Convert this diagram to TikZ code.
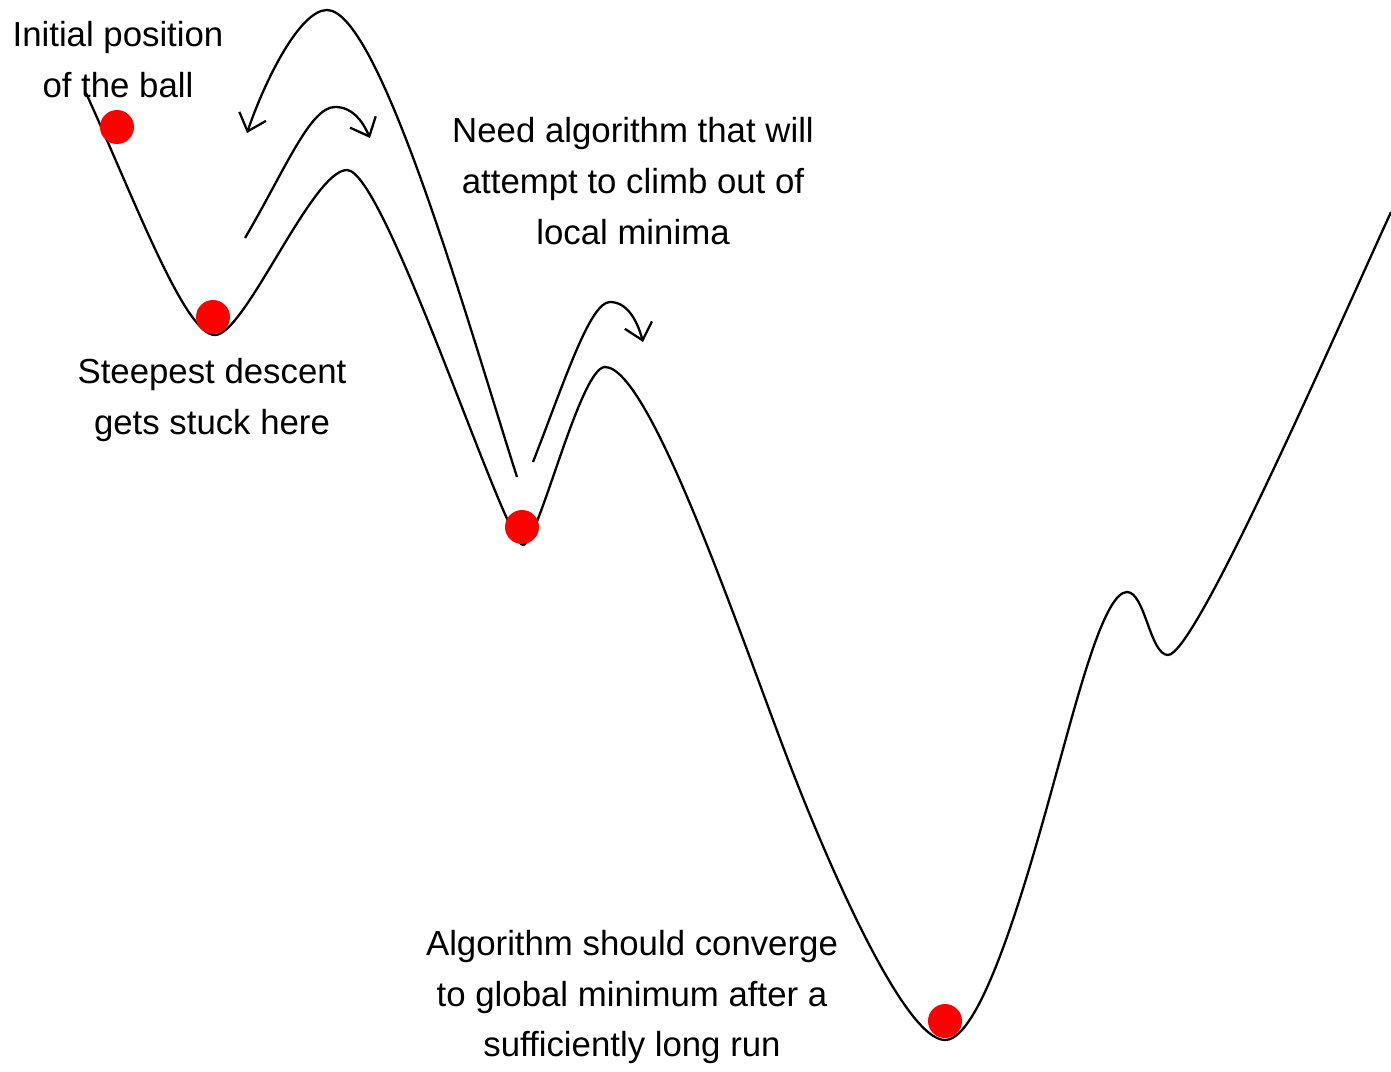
\documentclass[tikz,border=0pt]{standalone}
\usepackage{fontspec}
\setmainfont{Liberation Sans}
\usepackage{tikz}
\usetikzlibrary{arrows.meta}

\begin{document}
\begin{tikzpicture}[
  x=0.02cm, y=-0.02cm,
  land/.style={line width=1.3pt, line join=round},
  hop/.style={line width=1.3pt, -{Straight Barb[length=9pt, width=16pt, line width=1.3pt]}},
  ball/.style={circle, fill=red, minimum size=0.68cm, inner sep=0pt},
  note/.style={align=center, inner sep=0pt, font=\fontsize{19.8}{29}\selectfont}
]
  \useasboundingbox (0,0) rectangle (1391,1071);

  \draw[land] (86,93) .. controls (136,203) and (185,335) .. (215,335)
    .. controls (245,335) and (312,170) .. (347,170)
    .. controls (385,170) and (505,545) .. (523,545)
    .. controls (538,545) and (580,367) .. (605,367)
    .. controls (650,367) and (740,635) .. (790,765)
    .. controls (830,869) and (905,1040) .. (945,1040)
    .. controls (985,1040) and (1035,850) .. (1060,760)
    .. controls (1080,688) and (1105,592) .. (1127,592)
    .. controls (1145,592) and (1150,655) .. (1168,655)
    .. controls (1195,655) and (1331,343) .. (1391,212);

  \coordinate (back0) at (517,477);
  \coordinate (back1) at (247,133);
  \coordinate (over0) at (245,238);
  \coordinate (over1) at (370,138);
  \coordinate (out0) at (533,462);
  \coordinate (out1) at (643,342);

  \draw[hop] (back0) .. controls (470,330) and (380,10) .. (327,10)
    .. controls (300,10) and (265,80) .. (back1);
  \draw[hop] (over0) .. controls (285,170) and (310,107) .. (335,107)
    .. controls (352,107) and (362,120) .. (over1);
  \draw[hop] (out0) .. controls (565,380) and (590,302) .. (610,302)
    .. controls (627,302) and (637,320) .. (out1);

  \node[ball] (start) at (117,127) {};
  \node[ball] (stuck) at (213,317) {};
  \node[ball] (local) at (522,527) {};
  \node[ball] (global) at (945,1021) {};

  \node[note] (initial) at (118,60) {Initial position\\of the ball};
  \node[note] (steepest) at (212,400) {Steepest descent\\gets stuck here};
  \node[note] (climb) at (633,181) {Need algorithm that will\\attempt to climb out of\\local minima};
  \node[note] (converge) at (632,997) {Algorithm should converge\\to global minimum after a\\sufficiently long run};
\end{tikzpicture}
\end{document}
